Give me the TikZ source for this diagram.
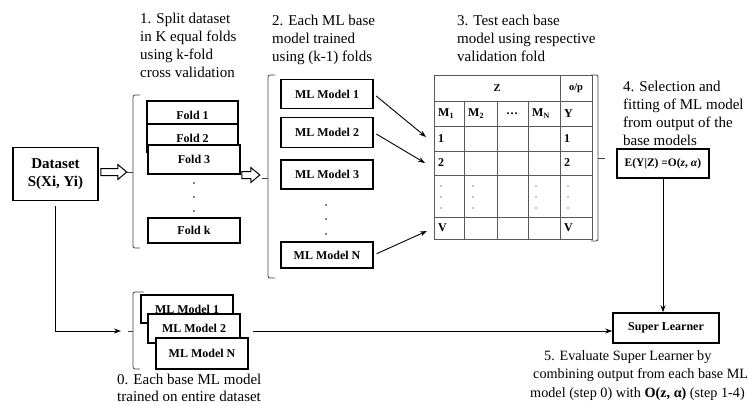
\documentclass[tikz,border=0pt]{standalone}
\usepackage{fontspec}
\setmainfont{Liberation Serif}
\usetikzlibrary{arrows.meta,calc}

\tikzset{
  box/.style={draw,line width=1.6pt,fill=white,inner sep=0pt,
    font=\bfseries\fontsize{12}{14}\selectfont},
  note/.style={anchor=north west,inner sep=0pt,align=left,
    font=\fontsize{15}{18}\selectfont},
  bracket/.style={draw=black!75,line width=0.8pt,rounded corners=2pt},
  link/.style={line width=0.9pt,-{Stealth[length=7pt,width=5pt]}},
  block/.style={draw,line width=1pt,fill=white,line join=miter},
  grid/.style={draw=black!65,line width=0.6pt},
  cell/.style={anchor=west,inner sep=0pt,font=\bfseries\fontsize{12}{14}\selectfont},
  head/.style={inner sep=0pt,font=\bfseries\fontsize{10.5}{12}\selectfont}
}
\newcommand\blockarrow[2]{\draw[block] (#1) ++(0,-3.5) -- ++(#2,0) -- ++(0,-4)
  -- ++(9,7.5) -- ++(-9,7.5) -- ++(0,-4) -- ++(-#2,0) -- cycle;}

\begin{document}
\begin{tikzpicture}[x=1pt,y=-1pt]
\useasboundingbox (0,0) rectangle (747,405);

\node[note] (step1) at (140,13) {1. Split dataset\\in K equal folds\\using k-fold\\cross validation};
\node[note] (step2) at (272,15) {2. Each ML base\\model trained\\using (k-1) folds};
\node[note] (step3) at (457,15) {3. Test each base\\model using respective\\validation fold};
\node[note] (step4) at (623,81) {4. Selection and\\fitting of ML model\\from output of the\\base models};
\node[note,font=\fontsize{14.2}{18.5}\selectfont] (step5) at (530,350)
  {\hspace*{14pt}5. Evaluate Super Learner by\\\hspace*{3pt}combining output from each base ML\\model (step 0) with \textbf{O(z, α)} (step 1-4)};
\node[note,font=\fontsize{15}{17}\selectfont] (step0) at (117,374) {0. Each base ML model\\trained on entire dataset};

\node[box,align=center,minimum width=85pt,minimum height=53pt,
  font=\bfseries\fontsize{15}{18}\selectfont] (dataset) at (55.5,174) {Dataset\\S(Xi, Yi)};

\node[box,minimum width=91pt,minimum height=28pt] (fold1) at (192.5,115) {Fold 1};
\node[box,minimum width=91pt,minimum height=28pt] (fold2) at (192.5,138) {Fold 2};
\node[box,minimum width=92pt,minimum height=29pt] (fold3) at (194,159.5) {Fold 3};
\node[box,minimum width=92pt,minimum height=25pt] (foldk) at (194,230.5) {Fold k};
\foreach \y in {183,197,211} \fill (194,\y) circle (0.9pt);

\draw[bracket] (140,95) -- (133,95) -- (133,248) -- (140,248);
\draw[bracket] (133,172) -- (127,172) coordinate (foldsbr);
\coordinate (dsout) at ($(dataset.east |- foldsbr)+(2,0)$);
\blockarrow{dsout}{17}

\node[box,minimum width=92pt,minimum height=29pt] (ml1) at (327,94) {ML Model 1};
\node[box,minimum width=92pt,minimum height=30pt] (ml2) at (327,132.5) {ML Model 2};
\node[box,minimum width=92pt,minimum height=29pt] (ml3) at (327,174.5) {ML Model 3};
\node[box,minimum width=92pt,minimum height=26pt] (mlN) at (327,255) {ML Model N};
\foreach \y in {205,219,234} \fill (326,\y) circle (0.9pt);

\draw[bracket] (275,75) -- (268,75) -- (268,278) -- (275,278);
\draw[bracket] (268,178) -- (262,178) coordinate (mlbr);
\coordinate (foldsout) at ($(fold3.east |- 0,175)+(1,0)$);
\blockarrow{foldsout}{9}

\draw[grid] (434,75) rectangle (592,239);
\foreach \y in {101,126,151,175,217} \draw[grid] (434,\y) -- (592,\y);
\draw[grid] (560,75) -- (560,239);
\foreach \x in {464,497,528} \draw[grid] (\x,101) -- (\x,239);
\node[head] (zhead) at (497,88) {Z};
\node[head] (ophead) at (576,88) {o/p};
\node[cell] (m1) at (438,113.5) {M\textsubscript{1}};
\node[cell] (m2) at (468,113.5) {M\textsubscript{2}};
\node[cell,anchor=center] (mdots) at (512,113.5) {\dots};
\node[cell] (mN) at (532,113.5) {M\textsubscript{N}};
\node[cell] (ycol) at (564,113.5) {Y};
\node[cell] (r1) at (438,138.5) {1};
\node[cell] (o1) at (564,138.5) {1};
\node[cell] (r2) at (438,163) {2};
\node[cell] (o2) at (564,163) {2};
\node[cell] (rV) at (438,228) {V};
\node[cell] (oV) at (564,228) {V};
\foreach \x in {441,473,536,568}
  \foreach \y in {186,197,208} \fill (\x,\y) circle (0.6pt);

\coordinate (in1) at (426,137);
\coordinate (in2) at (425,163);
\coordinate (inV) at (427,231);
\draw[link,shorten <=3pt] (ml1.east) -- (in1);
\draw[link,shorten <=3pt] (ml2.east) -- (in2);
\draw[link,shorten <=3pt] (mlN.east) -- (inV);

\draw[bracket] (591,75) -- (598,75) -- (598,241) -- (591,241);
\draw[bracket] (598,158) -- (605,158);

\node[box,minimum width=92pt,minimum height=29pt,font=\bfseries\fontsize{11.5}{13}\selectfont] (formula) at (663,163.5) {E(Y|Z) =O(\textit{z}, \textit{α})};
\node[box,minimum width=106pt,minimum height=30pt] (superl) at (666,328) {Super Learner};
\draw[link] (formula.south) -- (formula.south |- superl.north);

\node[box,minimum width=92pt,minimum height=28pt] (bml1) at (187,309) {ML Model 1};
\node[box,minimum width=92pt,minimum height=29pt] (bml2) at (194,328.5) {ML Model 2};
\node[box,minimum width=92pt,minimum height=31pt] (bmlN) at (202,353.5) {ML Model N};

\draw[bracket] (144,292) -- (133,292) -- (133,369) -- (140,369);
\draw[bracket] (133,331) -- (128,331);
\coordinate (bmlin) at (121,331);
\draw[link] (dataset.south) ++(0,5) |- (bmlin);
\coordinate (bmlout) at (253,331);
\draw[link] (bmlout) -- (superl.west |- bmlout);
\end{tikzpicture}
\end{document}
